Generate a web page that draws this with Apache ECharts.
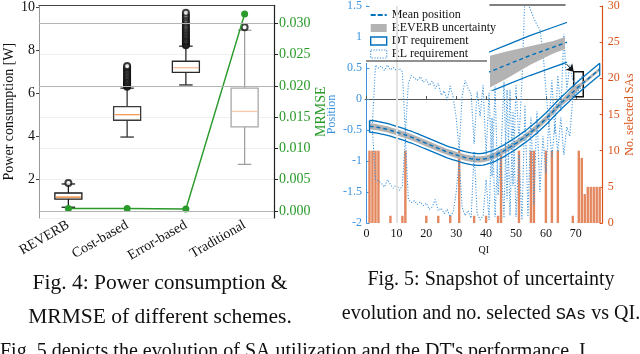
<!DOCTYPE html>
<html><head><meta charset="utf-8">
<script src="https://cdn.jsdelivr.net/npm/echarts@6/dist/echarts.min.js"></script>
<style>html,body{margin:0;padding:0;background:#fff}#c{width:640px;height:354px}</style>
</head><body><div id="c"></div>
<script>
// ---------- Fig. 4 data ----------
const schemes = ['REVERB', 'Cost-based', 'Error-based', 'Traditional'];
// [lower whisker, Q1, median, Q3, upper whisker] in W
const boxREVERB = [0.70, 1.08, 1.17, 1.36, 1.78];
const boxCost   = [3.96, 4.74, 5.00, 5.37, 6.23];
const boxError  = [6.38, 6.96, 7.18, 7.48, 8.18];
const boxTrad   = [2.69, 4.43, 5.15, 6.23, 8.92];
const outREVERB = [1.83];
const outCost   = [6.30, 6.33, 6.36, 6.40, 6.44, 6.48, 6.52, 6.57, 6.62, 6.68, 6.74, 6.80, 6.86, 6.93, 7.00, 7.07, 7.14, 7.20, 7.26];
const outError  = [8.22, 8.26, 8.31, 8.36, 8.41, 8.46, 8.52, 8.58, 8.64, 8.70, 8.77, 8.84, 8.91, 8.98, 9.06, 9.14, 9.23, 9.32, 9.42, 9.52, 9.62, 9.73];
const outTrad   = [9.06];
const mrmse     = [0.0004, 0.0004, 0.0003, 0.0315];
const mrmseRefLines = [0, 0.020, 0.025];

// ---------- Fig. 5 data ----------
const qi = [1,2,3,4,5,6,7,8,9,10,11,12,13,14,15,16,17,18,19,20,21,22,23,24,25,26,27,28,29,30,31,32,33,34,35,36,37,38,39,40,41,42,43,44,45,46,47,48,49,50,51,52,53,54,55,56,57,58,59,60,61,62,63,64,65,66,67,68,69,70,71,72,73,74,75,76,77,78];
const meanPos = [-0.44,-0.445,-0.45,-0.46,-0.47,-0.48,-0.49,-0.505,-0.52,-0.535,
  -0.55,-0.565,-0.58,-0.60,-0.615,-0.635,-0.655,-0.675,-0.695,-0.715,
  -0.735,-0.755,-0.775,-0.795,-0.815,-0.835,-0.855,-0.87,-0.885,-0.90,
  -0.915,-0.93,-0.945,-0.955,-0.965,-0.97,-0.975,-0.975,-0.97,-0.96,
  -0.945,-0.93,-0.91,-0.885,-0.86,-0.835,-0.805,-0.775,-0.745,-0.715,
  -0.68,-0.645,-0.61,-0.575,-0.535,-0.495,-0.455,-0.41,-0.365,-0.32,
  -0.27,-0.22,-0.17,-0.12,-0.07,-0.025,0.02,0.065,0.11,0.155,
  0.20,0.24,0.28,0.32,0.36,0.40,0.44,0.48];
const uncHalf = [0.05,0.05,0.05,0.05,0.05,0.05,0.05,0.05,0.05,0.05,
  0.05,0.05,0.05,0.05,0.05,0.05,0.05,0.05,0.05,0.05,
  0.05,0.05,0.05,0.05,0.05,0.05,0.05,0.05,0.05,0.05,
  0.05,0.05,0.05,0.05,0.05,0.05,0.05,0.05,0.05,0.05,
  0.05,0.05,0.05,0.05,0.05,0.05,0.05,0.05,0.05,0.05,
  0.05,0.05,0.05,0.05,0.05,0.05,0.05,0.05,0.05,0.05,
  0.05,0.05,0.05,0.05,0.05,0.055,0.06,0.07,0.08,0.065,
  0.045,0.03,0.028,0.028,0.028,0.028,0.028,0.028];
const dtHalf = 0.095;
const rlUpper = [-0.38,-0.38,0.55,0.50,0.53,0.46,0.55,0.47,0.51,0.46,
  0.49,0.44,-0.55,0.25,0.38,0.34,0.30,0.36,0.27,0.31,
  0.22,0.29,0.17,0.25,0.06,0.13,-0.02,0.21,0.03,-0.30,
  -0.82,0.05,0.30,0.17,0.08,-0.72,0.12,-0.28,0.22,-0.90,
  0.10,-1.25,0.20,-1.55,-0.82,0.28,-1.65,0.15,-1.40,0.22,
  -0.68,0.30,1.70,1.55,1.42,1.30,1.20,1.12,0.78,0.15,
  -0.42,0.30,-0.55,0.38,-0.20,1.05,0.15,0.55,0.30,0.26,
  0.30,0.36];
const rlLower = [-0.52,-0.52,-1.30,-1.32,-1.36,-1.42,-1.30,-1.38,-1.44,-1.38,
  -1.47,-1.40,-0.62,-1.62,-1.67,-1.64,-1.70,-1.66,-1.72,-1.68,
  -1.78,-1.74,-1.62,-1.80,-1.76,-1.85,-1.78,-1.90,-1.82,-1.50,
  -1.00,-1.75,-1.88,-1.80,-1.92,-0.85,-1.85,-1.95,-1.88,-1.30,
  -1.95,-0.30,-1.90,-0.80,-1.00,-1.92,0.15,-1.88,-0.20,-1.90,
  -0.90,-1.95,-0.10,-1.90,-0.30,-1.70,-0.20,-1.50,-0.60,-1.20,
  -0.35,-0.95,-0.40,-0.85,-0.30,-0.90,-0.45,-0.60,0.05,0.10,
  0.15,0.20];
const saQI    = [1,2,3,4,8,12,13,20,24,28,31,36,40,44,45,51,55,56,60,62,64,69,71,72,73,74,75,76,77,78];
const saCount = [10,10,10,10,1,1,10,1,1,1,10,1,1,1,10,10,10,10,10,10,10,1,10,9,4,5,5,5,5,5];
const insetX = [69.3, 72.5];
const insetY = [0.036, 0.441];
const arrowFrom = [66.9, 0.563];

// ---------- styles ----------
const SERIF = "'Liberation Serif', 'Times New Roman', serif";
const BLUE = '#0072BD', BLUE_L = '#3d93db', ORANGE = '#D95319', BAR = '#e4875e', GREEN = '#2a9a2a', GRAYBAND = '#b3b3b3';
const boxStyles = [
  {box:'#1a1a1a', whisker:'#1a1a1a', median:'#f07f2a'},
  {box:'#3a3a3a', whisker:'#333333', median:'#f39a55'},
  {box:'#2a2a2a', whisker:'#2a2a2a', median:'#f6bb98'},
  {box:'#a8a8a8', whisker:'#a0a0a0', median:'#f8c8a8'}
];

const boxData = [boxREVERB, boxCost, boxError, boxTrad].map((b, i) => [i].concat(b));
const outlierData = [outREVERB, outCost, outError, outTrad].reduce((acc, arr, i) => acc.concat(arr.map(v => [i, v])), []);

function renderBox(params, api) {
  const i = api.value(0);
  const st = boxStyles[i];
  const w = api.size([1, 0])[0] * 0.46;
  const p = k => api.coord([i, api.value(k)]);
  const pMin = p(1), pQ1 = p(2), pMed = p(3), pQ3 = p(4), pMax = p(5);
  const cx = pMin[0];
  const ws = {stroke: st.whisker, lineWidth: 1.3};
  return {type: 'group', children: [
    {type: 'line', shape: {x1: cx, y1: pQ3[1], x2: cx, y2: pMax[1]}, style: ws},
    {type: 'line', shape: {x1: cx, y1: pQ1[1], x2: cx, y2: pMin[1]}, style: ws},
    {type: 'line', shape: {x1: cx - w / 4, y1: pMax[1], x2: cx + w / 4, y2: pMax[1]}, style: ws},
    {type: 'line', shape: {x1: cx - w / 4, y1: pMin[1], x2: cx + w / 4, y2: pMin[1]}, style: ws},
    {type: 'rect', shape: {x: cx - w / 2, y: pQ3[1], width: w, height: pQ1[1] - pQ3[1]}, style: {fill: '#fff', stroke: st.box, lineWidth: 1.3}},
    {type: 'line', shape: {x1: cx - w / 2 + 1, y1: pMed[1], x2: cx + w / 2 - 1, y2: pMed[1]}, style: {stroke: st.median, lineWidth: 1.3}}
  ]};
}

function renderBand(params, api) {
  const up = [], lo = [];
  for (let i = 0; i < qi.length; i++) {
    up.push(api.coord([qi[i], meanPos[i] + uncHalf[i]]));
    lo.push(api.coord([qi[i], meanPos[i] - uncHalf[i]]));
  }
  const cs = params.coordSys;
  return {
    type: 'polygon',
    shape: {points: up.concat(lo.reverse())},
    style: {fill: GRAYBAND},
    clipPath: {type: 'rect', shape: {x: cs.x, y: cs.y, width: cs.width, height: cs.height}}
  };
}

const meanData = qi.map((x, i) => [x, meanPos[i]]);
const dtData = qi.map((x, i) => [x, meanPos[i] + dtHalf])
  .concat(qi.slice().reverse().map((x, j) => [x, meanPos[qi.length - 1 - j] - dtHalf]))
  .concat([[qi[0], meanPos[0] + dtHalf]]);
const rlUpData = rlUpper.map((v, i) => [qi[i], v]);
const rlLoData = rlLower.map((v, i) => [qi[i], v]);
const barData = saQI.map((x, i) => [x, saCount[i]]);

const chart = echarts.init(document.getElementById('c'), null, {renderer: 'canvas'});
chart.setOption({
  animation: false,
  backgroundColor: '#fff',
  textStyle: {fontFamily: SERIF},
  grid: [
    {left: 39, top: 5, width: 235, height: 213},
    {left: 365, top: 5, width: 237.7, height: 218},
    {left: 490, top: 5, width: 75, height: 85}
  ],
  legend: {
    left: 364, top: 7, orient: 'vertical', itemGap: 1, itemWidth: 16, itemHeight: 8,
    padding: [2, 4, 3, 6], backgroundColor: '#fff',
    textStyle: {fontFamily: SERIF, fontSize: 12, color: '#111'},
    data: [
      {name: 'Mean position', icon: 'path://M0,0h5v2h-5z M7,0h5v2h-5z M14,0h2v2h-2z', itemStyle: {color: BLUE, borderWidth: 0}},
      {name: 'REVERB uncertainty', icon: 'rect', itemStyle: {color: GRAYBAND, borderWidth: 0}},
      {name: 'DT requirement', icon: 'rect', itemStyle: {color: '#fff', borderColor: BLUE, borderWidth: 1.4}},
      {name: 'RL requirement', icon: 'rect', itemStyle: {color: '#fff', borderColor: BLUE_L, borderWidth: 1.2, borderType: [1.2, 1.5]}}
    ]
  },
  xAxis: [
    {type: 'category', gridIndex: 0, data: schemes, boundaryGap: true,
     axisLine: {lineStyle: {color: '#bbb'}},
     axisTick: {alignWithLabel: true, length: 4, lineStyle: {color: '#999'}},
     axisLabel: {rotate: 30, fontSize: 14, color: '#111', fontFamily: SERIF, margin: 6},
     splitLine: {show: false}},
    {type: 'category', gridIndex: 0, position: 'top', data: schemes,
     axisLine: {lineStyle: {color: '#444', width: 1.2}}, axisTick: {show: false}, axisLabel: {show: false}},
    {type: 'value', gridIndex: 1, min: -0.5, max: 79, splitNumber: 8, minInterval: 10, maxInterval: 10,
     name: 'QI', nameLocation: 'middle', nameGap: 20, nameTextStyle: {fontSize: 10, color: '#111', fontFamily: SERIF},
     axisLine: {lineStyle: {color: '#555'}},
     axisTick: {inside: true, length: 3, lineStyle: {color: '#555'}},
     axisLabel: {fontSize: 12, color: '#111', margin: 5, showMinLabel: false, showMaxLabel: false, fontFamily: SERIF},
     splitLine: {show: false}},
    {type: 'value', gridIndex: 2, position: 'top', min: insetX[0], max: insetX[1],
     axisLine: {lineStyle: {color: '#555', width: 1.5}}, axisTick: {show: false}, axisLabel: {show: false}, splitLine: {show: false}}
  ],
  yAxis: [
    {type: 'value', gridIndex: 0, min: 0.2, max: 10.08, splitNumber: 5, minInterval: 2, maxInterval: 2,
     name: 'Power consumption [W]', nameLocation: 'middle', nameGap: 23,
     nameTextStyle: {fontSize: 14, color: '#111', fontFamily: SERIF},
     axisLine: {show: true, lineStyle: {color: '#999'}},
     axisTick: {show: true, length: 3, lineStyle: {color: '#444'}},
     axisLabel: {fontSize: 14, color: '#111', margin: 4, showMinLabel: false, showMaxLabel: false, fontFamily: SERIF},
     splitLine: {show: false}},
    {type: 'value', gridIndex: 0, position: 'right', min: -0.00112, max: 0.03291, splitNumber: 7, minInterval: 0.005, maxInterval: 0.005,
     name: 'MRMSE', nameLocation: 'middle', nameGap: 34, nameRotate: 90,
     nameTextStyle: {fontSize: 14, color: GREEN, fontFamily: SERIF},
     axisLine: {show: true, lineStyle: {color: '#222', width: 1.2}},
     axisTick: {show: true, length: 4, lineStyle: {color: '#222'}},
     axisLabel: {fontSize: 14, color: GREEN, margin: 5, showMinLabel: false, showMaxLabel: false, fontFamily: SERIF,
                 formatter: v => v.toFixed(3)},
     splitLine: {show: true, lineStyle: {color: '#f0f0f0'}}},
    {type: 'value', gridIndex: 1, min: -2, max: 1.5, interval: 0.5,
     name: 'Position', nameLocation: 'middle', nameGap: 27,
     nameTextStyle: {fontSize: 12, color: BLUE_L, fontFamily: SERIF},
     axisLine: {show: true, lineStyle: {color: BLUE_L}},
     axisTick: {show: true, inside: true, length: 3, lineStyle: {color: BLUE_L}},
     axisLabel: {fontSize: 12, color: BLUE_L, margin: 3, fontFamily: SERIF},
     splitLine: {show: false}},
    {type: 'value', gridIndex: 1, position: 'right', min: 0, max: 30, interval: 5,
     name: 'No. selected SAs', nameLocation: 'middle', nameGap: 20, nameRotate: 90,
     nameTextStyle: {fontSize: 12, color: ORANGE, fontFamily: SERIF},
     axisLine: {show: true, lineStyle: {color: ORANGE, width: 1.2}},
     axisTick: {show: true, inside: true, length: 3, lineStyle: {color: ORANGE}},
     axisLabel: {fontSize: 12, color: ORANGE, margin: 5, fontFamily: SERIF},
     splitLine: {show: false}},
    {type: 'value', gridIndex: 2, min: insetY[0], max: insetY[1], show: false}
  ],
  series: [
    {type: 'line', xAxisIndex: 0, yAxisIndex: 1, data: [], z: 1, silent: true,
     markLine: {silent: true, symbol: ['none', 'none'], label: {show: false},
       lineStyle: {color: '#b4b4b4', width: 1.2, type: 'solid'},
       data: mrmseRefLines.map(v => ({yAxis: v}))}},
    {type: 'custom', name: 'Power', xAxisIndex: 0, yAxisIndex: 0, z: 2,
     renderItem: renderBox, data: boxData, encode: {x: 0, y: [1, 2, 3, 4, 5]}},
    {type: 'scatter', xAxisIndex: 0, yAxisIndex: 0, data: outlierData, z: 3,
     symbol: 'emptyCircle', symbolSize: 6,
     itemStyle: {color: '#111', borderColor: '#111', borderWidth: 1.2}},
    {type: 'line', name: 'MRMSE', xAxisIndex: 0, yAxisIndex: 1, data: mrmse, z: 4,
     symbol: 'circle', symbolSize: 7, lineStyle: {color: GREEN, width: 1.5}, itemStyle: {color: GREEN}},

    {type: 'bar', name: 'No. selected SAs', xAxisIndex: 2, yAxisIndex: 3, data: barData, barWidth: 2.4, z: 1,
     itemStyle: {color: BAR},
     markLine: {silent: true, symbol: ['none', 'none'], label: {show: false},
       lineStyle: {color: '#e2e2e2', width: 2, type: 'solid'}, data: [{xAxis: 10}]}},
    {type: 'custom', name: 'REVERB uncertainty', xAxisIndex: 2, yAxisIndex: 2, z: 2, clip: true,
     renderItem: renderBand, data: [[qi[0], meanPos[0]]], itemStyle: {color: GRAYBAND}},
    {type: 'line', name: 'RL requirement', xAxisIndex: 2, yAxisIndex: 2, data: rlUpData, z: 3,
     symbol: 'none', lineStyle: {color: BLUE_L, width: 1.1, type: [1.1, 1.7]}, itemStyle: {color: BLUE_L}},
    {type: 'line', name: 'RL requirement', xAxisIndex: 2, yAxisIndex: 2, data: rlLoData, z: 3,
     symbol: 'none', lineStyle: {color: BLUE_L, width: 1.1, type: [1.1, 1.7]}, itemStyle: {color: BLUE_L}},
    {type: 'line', name: 'DT requirement', xAxisIndex: 2, yAxisIndex: 2, data: dtData, z: 4,
     symbol: 'none', lineStyle: {color: BLUE, width: 1.3}, itemStyle: {color: BLUE}},
    {type: 'line', name: 'Mean position', xAxisIndex: 2, yAxisIndex: 2, data: meanData, z: 5,
     symbol: 'none', lineStyle: {color: BLUE, width: 1.4, type: [4, 3]}, itemStyle: {color: BLUE},
     markArea: {silent: true, itemStyle: {color: 'rgba(0,0,0,0)', borderColor: '#111', borderWidth: 1.5},
       data: [[{coord: [insetX[0], insetY[1]]}, {coord: [insetX[1], insetY[0]]}]]},
     markLine: {silent: true, symbol: ['none', 'arrow'], symbolSize: 7, label: {show: false},
       lineStyle: {color: '#111', width: 1, type: 'solid'},
       data: [[{coord: arrowFrom}, {coord: [insetX[0], insetY[1]]}]]}},

    {type: 'custom', xAxisIndex: 3, yAxisIndex: 4, z: 6, clip: true,
     renderItem: renderBand, data: [[qi[0], meanPos[0]]]},
    {type: 'line', xAxisIndex: 3, yAxisIndex: 4, data: dtData, z: 7,
     symbol: 'none', lineStyle: {color: BLUE, width: 1.3}},
    {type: 'line', xAxisIndex: 3, yAxisIndex: 4, data: meanData, z: 8,
     symbol: 'none', lineStyle: {color: BLUE, width: 1.4, type: [4, 3]}}
  ],
  graphic: [
    {type: 'line', shape: {x1: 366, y1: 61, x2: 487, y2: 61}, style: {stroke: '#222', lineWidth: 1.2}, z: 10},
    {type: 'text', x: 160, y: 283, style: {text: 'Fig. 4: Power consumption &', font: '21.5px ' + SERIF, fill: '#111', align: 'center', verticalAlign: 'middle'}},
    {type: 'text', x: 160, y: 317, style: {text: 'MRMSE of different schemes.', font: '21.5px ' + SERIF, fill: '#111', align: 'center', verticalAlign: 'middle'}},
    {type: 'text', x: 491, y: 280, style: {text: 'Fig. 5: Snapshot of uncertainty', font: '20px ' + SERIF, fill: '#111', align: 'center', verticalAlign: 'middle'}},
    {type: 'text', x: 491, y: 314, style: {text: 'evolution and no. selected {m|SAs} vs QI.', font: '20px ' + SERIF, fill: '#111', align: 'center', verticalAlign: 'middle',
       rich: {m: {fontFamily: "'Liberation Mono', 'DejaVu Sans Mono', monospace", fontSize: 17, fill: '#111'}}}},
    {type: 'text', x: 0, y: 352, style: {text: "Fig. 5 depicts the evolution of SA utilization and the DT's performance. I", font: '20px ' + SERIF, fill: '#111', align: 'left', verticalAlign: 'middle'}}
  ]
});
</script>
</body></html>
